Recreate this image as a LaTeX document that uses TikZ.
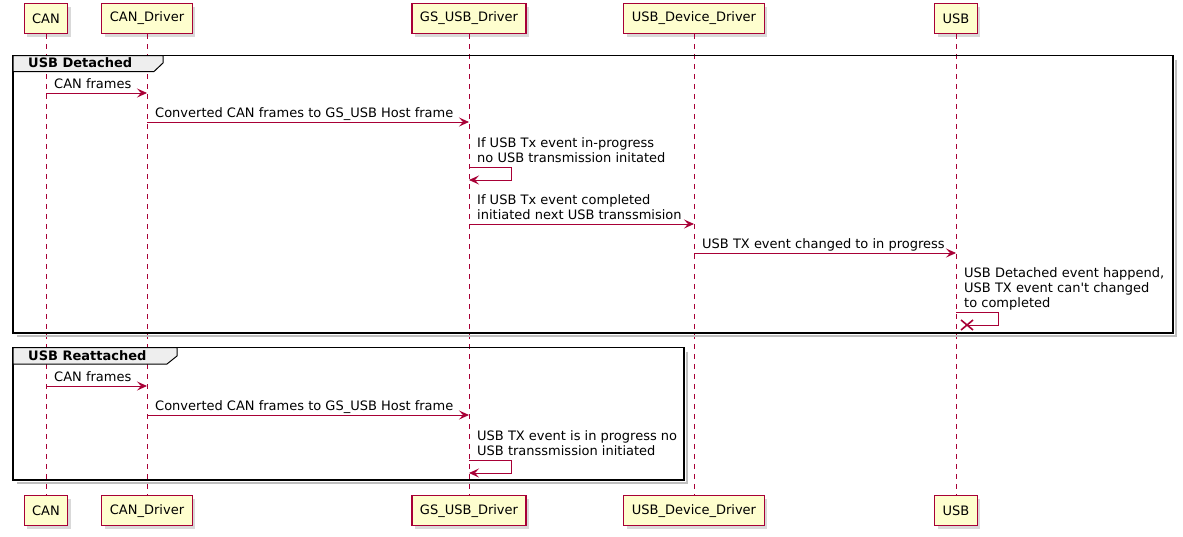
\documentclass[tikz,border=0pt]{standalone}
\usepackage{fontspec}
\setmainfont{DejaVu Sans}
\usetikzlibrary{arrows.meta,shadows}
\definecolor{borda}{HTML}{A80036}
\definecolor{fundo}{HTML}{FEFECE}
\definecolor{cinza}{HTML}{EEEEEE}

\begin{document}
\begin{tikzpicture}[
                x=1pt, y=-1pt,
                every node/.style={font=\fontsize{13}{15}\selectfont},
                caixa/.style={shape=rectangle, draw=borda, fill=fundo, line width=1.1pt, minimum height=30pt, inner xsep=8pt, drop shadow={shadow xshift=3pt, shadow yshift=-3pt, opacity=0.3}},
                vida/.style={draw=borda, dash pattern=on 5pt off 5pt, line width=0.8pt},
                linha/.style={draw=borda, line width=0.9pt},
                seta/.style={linha, -{Stealth[length=10pt, width=9pt, inset=4pt]}},
                rotulo/.style={anchor=base west, inner sep=0pt, align=left},
                sombra/.style={draw=black!25, line width=2.5pt},
                grupo/.style={draw=black, line width=1.8pt},
                aba/.style={draw=black, fill=cinza, line width=1pt},
                titulo/.style={anchor=base west, inner sep=0pt, font=\fontsize{13}{15}\selectfont\bfseries},
            ]
            \useasboundingbox (0,0) rectangle (1183,536);
            \node[caixa] (can) at (46, 18.5) {CAN};
            \node[caixa] (canD) at (147, 18.5) {CAN\_Driver};
            \node[caixa] (gs) at (469, 18.5) {GS\_USB\_Driver};
            \node[caixa] (dev) at (694, 18.5) {USB\_Device\_Driver};
            \node[caixa] (usb) at (956, 18.5) {USB};
            \node[caixa] (canB) at (46, 510.7) {CAN};
            \node[caixa] (canDB) at (147, 510.7) {CAN\_Driver};
            \node[caixa] (gsB) at (469, 510.7) {GS\_USB\_Driver};
            \node[caixa] (devB) at (694, 510.7) {USB\_Device\_Driver};
            \node[caixa] (usbB) at (956, 510.7) {USB};
            \draw[vida] (can) -- (canB);
            \draw[vida] (canD) -- (canDB);
            \draw[vida] (gs) -- (gsB);
            \draw[vida] (dev) -- (devB);
            \draw[vida] (usb) -- (usbB);
            % USB Detached
            \draw[sombra] (1176, 59.5) -- (1176, 336) -- (17, 336);
            \draw[grupo] (13, 55.5) rectangle (1173, 333);
            \filldraw[aba] (13, 55.5) -- (163, 55.5) -- (163, 63) -- (154, 71.5) -- (13, 71.5) -- cycle;
            \node[titulo] (g1) at (28, 67.5) {USB Detached};
            \coordinate (m1) at (0, 93);
            \coordinate (m2) at (0, 122);
            \coordinate (m3) at (0, 167);
            \coordinate (m4) at (0, 224);
            \coordinate (m5) at (0, 253);
            \coordinate (m6) at (0, 312);
            \coordinate (fim) at (967, 325);
            \node[rotulo] (t1) at (54, 88) {CAN frames};
            \draw[seta] (can |- m1) -- (canD |- m1);
            \node[rotulo] (t2) at (155, 117) {Converted CAN frames to GS\_USB Host frame};
            \draw[seta] (canD |- m2) -- (gs |- m2);
            \node[rotulo] (t3) at (477, 162) {If USB Tx event in-progress\\no USB transmission initated};
            \draw[seta] (gs |- m3) -- ++(42, 0) -- ++(0, 13) -- ++(-42, 0);
            \node[rotulo] (t4) at (477, 219) {If USB Tx event completed\\initiated next USB transsmision};
            \draw[seta] (gs |- m4) -- (dev |- m4);
            \node[rotulo] (t5) at (702, 248) {USB TX event changed to in progress};
            \draw[seta] (dev |- m5) -- (usb |- m5);
            \node[rotulo] (t6) at (964, 307) {USB Detached event happend,\\USB TX event can\textquotesingle t changed\\to completed};
            \draw[linha] (usb |- m6) -- ++(42, 0) -- ++(0, 13) -- (fim);
            \draw[linha, line width=1.6pt] (fim) ++(-6, -5) -- ++(12, 10) ++(0, -10) -- ++(-12, 10);
            % USB Reattached
            \draw[sombra] (687, 351.5) -- (687, 483) -- (17, 483);
            \draw[grupo] (13, 347.5) rectangle (684, 480);
            \filldraw[aba] (13, 347.5) -- (177, 347.5) -- (177, 356) -- (167, 364) -- (13, 364) -- cycle;
            \node[titulo] (g2) at (28, 360) {USB Reattached};
            \coordinate (m7) at (0, 386);
            \coordinate (m8) at (0, 415);
            \coordinate (m9) at (0, 460);
            \node[rotulo] (t7) at (54, 381) {CAN frames};
            \draw[seta] (can |- m7) -- (canD |- m7);
            \node[rotulo] (t8) at (155, 410) {Converted CAN frames to GS\_USB Host frame};
            \draw[seta] (canD |- m8) -- (gs |- m8);
            \node[rotulo] (t9) at (477, 455) {USB TX event is in progress no\\USB transsmission initiated};
            \draw[seta] (gs |- m9) -- ++(42, 0) -- ++(0, 13) -- ++(-42, 0);
        \end{tikzpicture}
\end{document}
